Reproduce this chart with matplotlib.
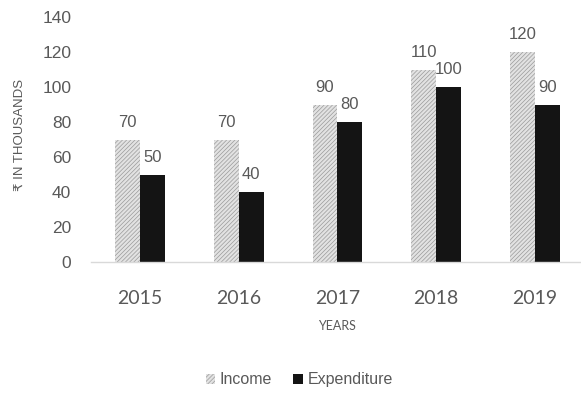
import matplotlib
matplotlib.use('Agg')
import matplotlib.pyplot as plt
import numpy as np

years = ['2015', '2016', '2017', '2018', '2019']
income = [70, 70, 90, 110, 120]
expenditure = [50, 40, 80, 100, 90]
y_ticks = [0, 20, 40, 60, 80, 100, 120, 140]

GREY_TXT = '#595959'

plt.rcParams['hatch.linewidth'] = 0.5
plt.rcParams['font.family'] = ['Liberation Sans', 'DejaVu Sans']

fig = plt.figure(figsize=(5.81, 3.97), dpi=100)
ax = fig.add_axes([0.156, 0.340, 0.844, 0.617])

x = np.arange(len(years))
w = 0.253
b1 = ax.bar(x - w / 2, income, w, color='#e2e2e2', edgecolor='#9a9a9a',
            hatch='////////', linewidth=0, label='Income')
b2 = ax.bar(x + w / 2, expenditure, w, color='#141414', linewidth=0,
            label='Expenditure')

for xi, v in zip(x, income):
    ax.annotate(str(v), (xi - w / 2, v), xytext=(0, 7), textcoords='offset points',
                ha='center', va='bottom', fontsize=12, color=GREY_TXT)
for xi, v in zip(x, expenditure):
    ax.annotate(str(v), (xi + w / 2, v), xytext=(0, 7), textcoords='offset points',
                ha='center', va='bottom', fontsize=12, color=GREY_TXT)

ax.set_xlim(-0.5, 4.466)
ax.set_ylim(0, 140)
ax.set_yticks(y_ticks)
ax.set_xticks(x)
ax.set_xticklabels(years, fontsize=14, color=GREY_TXT, family=['Lato', 'DejaVu Sans'])
ax.tick_params(axis='y', length=0, pad=14, labelsize=12.5, labelcolor=GREY_TXT)
ax.tick_params(axis='x', length=0, pad=20)

for s in ['top', 'right', 'left']:
    ax.spines[s].set_visible(False)
ax.spines['bottom'].set_color('#d9d9d9')
ax.spines['bottom'].set_linewidth(1)

fig.text(0.034, 0.66, '₹ IN THOUSANDS', rotation=90, ha='center', va='center',
         fontsize=9.5, color=GREY_TXT)
fig.text(0.58, 0.178, 'YEARS', ha='center', va='center', fontsize=9,
         color=GREY_TXT, family=['Lato', 'DejaVu Sans'])

leg = fig.legend(handles=[b1, b2], loc='center', bbox_to_anchor=(0.515, 0.043),
                 ncol=2, frameon=False, fontsize=11.5, handlelength=0.6,
                 handleheight=0.6, handletextpad=0.3, columnspacing=1.3)
for t in leg.get_texts():
    t.set_color(GREY_TXT)

fig.savefig('out.png', dpi=100)
